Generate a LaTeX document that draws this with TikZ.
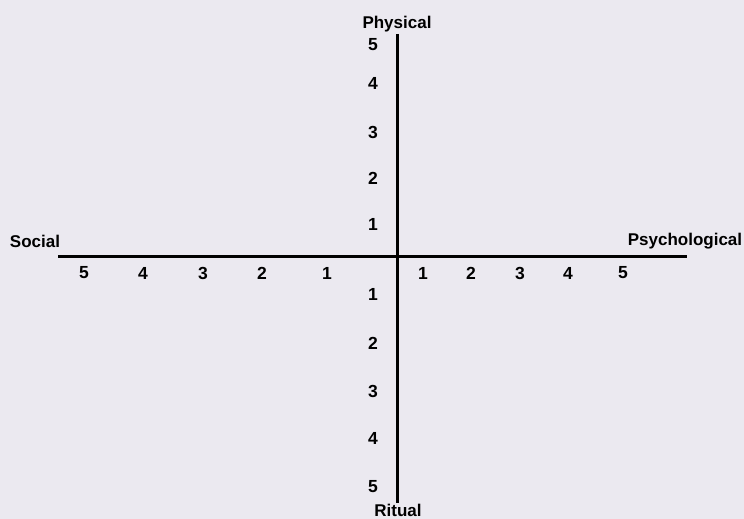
\documentclass[tikz,border=0pt]{standalone}
\usepackage{fontspec}
\setmainfont{Liberation Sans}
\usepackage{xcolor}
\usepackage{tikz}
\usetikzlibrary{positioning}
\definecolor{Paper}{HTML}{EBE9F0}
\tikzset{
  axisline/.style={line width=3pt, draw=black},
  axislabel/.style={font=\bfseries\fontsize{17}{19}\selectfont, inner sep=0pt},
  ticklabel/.style={font=\bfseries\fontsize{17.5}{19}\selectfont, inner sep=0pt}
}

\begin{document}
\begin{tikzpicture}[x=1pt, y=-1pt]
  \fill[Paper] (0,0) rectangle (744,519);
  \useasboundingbox (0,0) rectangle (744,519);
  \coordinate (west) at (58,256);
  \coordinate (east) at (687,256);
  \coordinate (north) at (397,34);
  \coordinate (south) at (397,503);
  \draw[axisline] (west) -- (east);
  \draw[axisline] (north) -- (south);
  \node[axislabel] (social) at (35,241) {Social};
  \node[axislabel] (psych) at (685,241) {Psychological};
  \node[axislabel] (physical) at (397,24) {Physical};
  \node[axislabel] (ritual) at (398,510) {Ritual};
  % ticks on the vertical axis
  \foreach \n/\y in {5/45, 4/83, 3/132, 2/178, 1/224}
    \node[ticklabel] (up\n) at (373,\y) {\n};
  \foreach \n/\y in {1/294, 2/343, 3/391, 4/438, 5/487}
    \node[ticklabel] (down\n) at (373,\y) {\n};
  % ticks on the horizontal axis
  \foreach \n/\x in {5/84, 4/143, 3/203, 2/262, 1/327}
    \node[ticklabel] (left\n) at (\x,273) {\n};
  \foreach \n/\x in {1/423, 2/471, 3/520, 4/568, 5/623}
    \node[ticklabel] (right\n) at (\x,273) {\n};
\end{tikzpicture}
\end{document}
